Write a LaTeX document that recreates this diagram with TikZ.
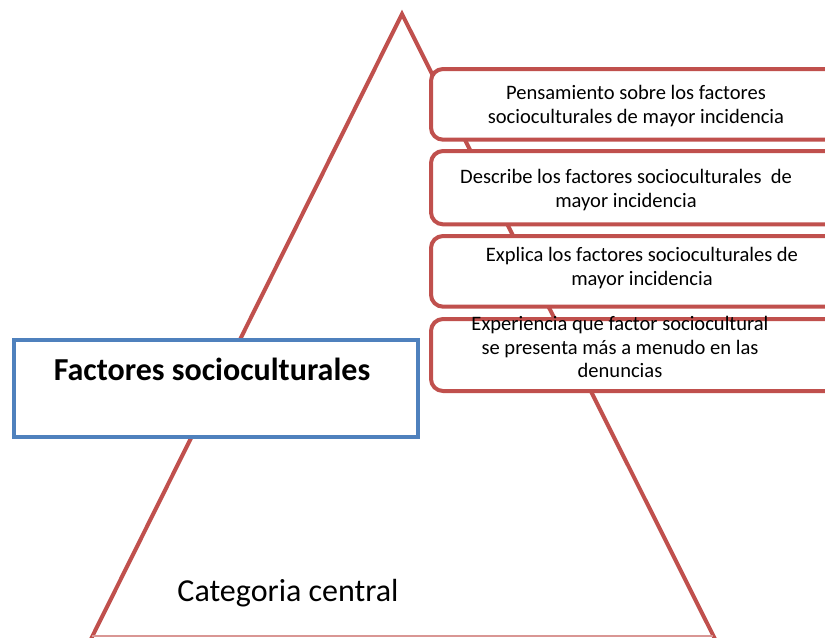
\documentclass[tikz,border=0pt]{standalone}
\usepackage{fontspec}
\setmainfont{Carlito}
\definecolor{tred}{HTML}{C0504D}
\definecolor{tpink}{HTML}{D99694}
\definecolor{tblue}{HTML}{4F81BD}
\begin{document}
\begin{tikzpicture}[x=0.75pt,y=-0.75pt,
  stepbox/.style={draw=tred,line width=3pt,rounded corners=9pt,fill=white,
    minimum width=330pt,minimum height=#1,anchor=north west,inner sep=0pt},
  boxtext/.style={align=center,font=\fontsize{15.4pt}{17.6pt}\selectfont,inner sep=0pt},
  tri/.style={draw=tred,line width=3pt}]
\useasboundingbox (0,0) rectangle (825,637);
\clip (0,0) rectangle (825,637);
\fill[white] (0,0) rectangle (825,637);
% triangle
\coordinate (apex) at (402,14);
\coordinate (bl) at (90.5,640);
\coordinate (br) at (715.5,640);
\draw[tri] (bl) -- (apex) -- (br);
\draw[tpink,line width=1.2pt] (92,636) -- (713,636);
% boxes
\node[stepbox=53pt] (b1) at (429,67) {};
\node[stepbox=55pt] (b2) at (429,149) {};
\node[stepbox=53pt] (b3) at (429,234) {};
\node[stepbox=54pt] (b4) at (429,317) {};
\node[boxtext] (t1) at (636,106) {Pensamiento sobre los factores\\socioculturales de mayor incidencia};
\node[boxtext] (t2) at (626,190) {Describe los factores socioculturales\ \ de\\mayor incidencia};
\node[boxtext] (t3) at (642,268) {Explica los factores socioculturales de\\mayor incidencia};
\node[boxtext] (t4) at (620,347) {Experiencia que factor sociocultural\\se presenta más a menudo en las\\denuncias};
% blue box
\node[draw=tblue,line width=3pt,fill=white,minimum width=303pt,minimum height=73pt,anchor=north west,inner sep=0pt] (fb) at (12,338) {};
\node[font=\fontsize{24pt}{28pt}\selectfont\bfseries,inner sep=0pt] (ft) at (212,369) {Factores socioculturales};
\node[font=\fontsize{24pt}{28pt}\selectfont,inner sep=0pt] (cc) at (288,593) {Categoria central};
\end{tikzpicture}
\end{document}
